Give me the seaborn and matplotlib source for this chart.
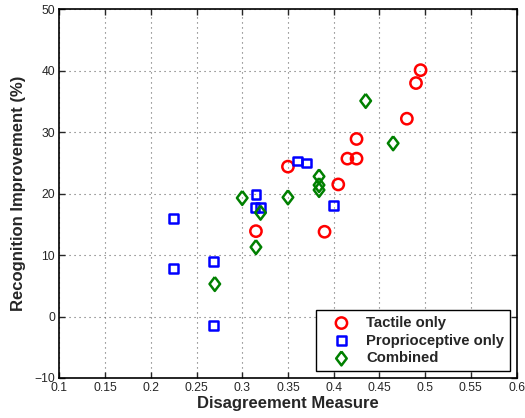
import numpy as np
import pandas as pd
import seaborn as sns
from matplotlib import pyplot as plt

# Valeurs
tactile_x = [0.495, 0.490, 0.480, 0.425, 0.415, 0.425, 0.350, 0.405, 0.315, 0.390]
tactile_y = [40.1, 38.0, 32.2, 28.9, 25.7, 25.7, 24.4, 21.5, 13.9, 13.8]

proprio_x = [0.360, 0.370, 0.315, 0.314, 0.320, 0.400, 0.225, 0.225, 0.269, 0.269]
proprio_y = [25.3, 25.0, 19.8, 17.8, 17.8, 18.1, 16.0, 7.8, 8.9, -1.5]

combined_x = [0.435, 0.465, 0.384, 0.384, 0.384, 0.300, 0.350, 0.320, 0.315, 0.270]
combined_y = [35.1, 28.2, 22.8, 21.4, 20.6, 19.3, 19.4, 16.9, 11.3, 5.3]

groups = ['Tactile only', 'Proprioceptive only', 'Combined']
colors = {'Tactile only': '#ff0000', 'Proprioceptive only': '#0000ff', 'Combined': '#008000'}
# losange façon matlab (plus haut que large)
diamond = [(0, 1), (0.76, 0), (0, -1), (-0.76, 0), (0, 1)]
markers = {'Tactile only': 'o', 'Proprioceptive only': 's', 'Combined': diamond}
sizes = {'Tactile only': 66, 'Proprioceptive only': 40, 'Combined': 100}

df = pd.concat([
    pd.DataFrame({'x': tactile_x, 'y': tactile_y, 'group': groups[0]}),
    pd.DataFrame({'x': proprio_x, 'y': proprio_y, 'group': groups[1]}),
    pd.DataFrame({'x': combined_x, 'y': combined_y, 'group': groups[2]}),
])

sns.set_style('ticks')
plt.rcParams['font.family'] = ['Liberation Sans', 'DejaVu Sans']

fig = plt.figure(figsize=(5.25, 4.18), dpi=100)
ax = fig.add_axes([0.113, 0.0957, 0.871, 0.882])

for g in groups:
    sub = df[df['group'] == g]
    sns.scatterplot(data=sub, x='x', y='y', ax=ax, marker=markers[g], s=sizes[g],
                    facecolor='none', edgecolor=colors[g], color=colors[g],
                    linewidth=1.8, label=g, zorder=3)

ax.set_xlim(0.1, 0.6)
ax.set_ylim(-10, 50)
ax.set_xticks(np.arange(0.1, 0.61, 0.05))
ax.set_xticklabels(['0.1', '0.15', '0.2', '0.25', '0.3', '0.35', '0.4', '0.45', '0.5', '0.55', '0.6'])
ax.set_yticks(np.arange(-10, 51, 10))
ax.grid(True, linestyle=(0, (1, 3.5)), color='0.4', linewidth=0.8)
ax.tick_params(direction='in', top=True, right=True, labelsize=8.7, length=4, width=1, pad=3)
for s in ax.spines.values():
    s.set_visible(True)
    s.set_linewidth(1.2)
    s.set_color('black')

ax.set_xlabel('Disagreement Measure', fontsize=12, fontweight='bold', labelpad=1)
ax.set_ylabel('Recognition Improvement (%)', fontsize=12, fontweight='bold', labelpad=6)

leg = ax.legend(loc='lower right', fontsize=10.7, fancybox=False, edgecolor='black',
                framealpha=1, borderaxespad=0.45, handletextpad=0.35, labelspacing=0.25,
                borderpad=0.4, handlelength=2.6)
for t in leg.get_texts():
    t.set_fontweight('bold')
leg.get_frame().set_linewidth(1.0)

fig.savefig('out.png', dpi=100)
